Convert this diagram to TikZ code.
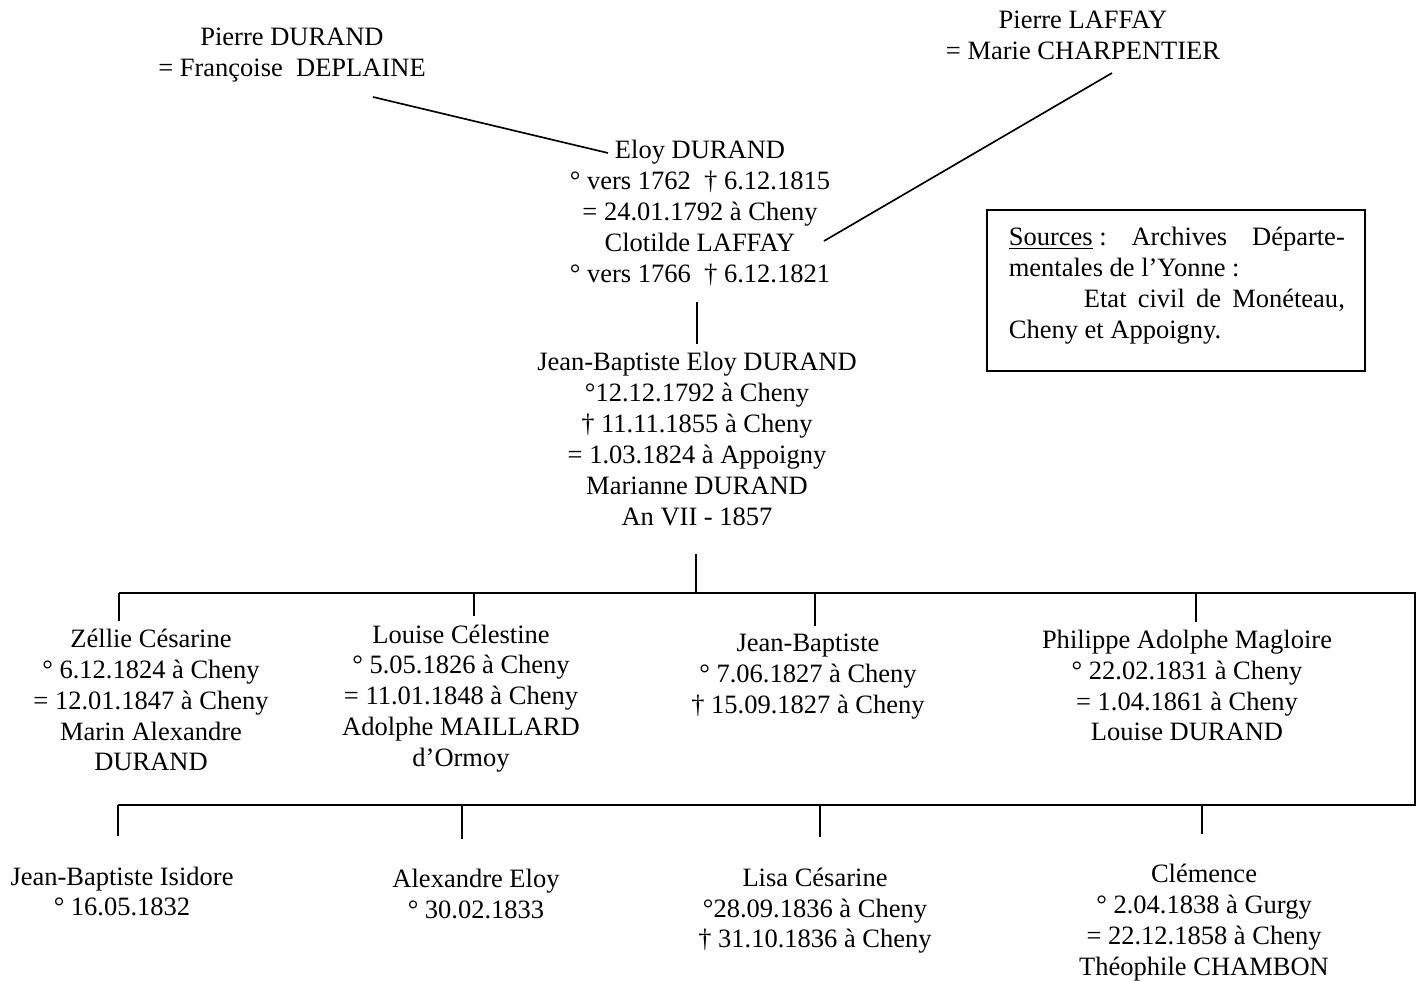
\documentclass[tikz,border=0pt]{standalone}
\usepackage{fontspec}
\setmainfont{Liberation Serif}

\begin{document}
\begin{tikzpicture}[x=1.5914cm, y=-1.5914cm, line width=0.75pt,
  every node/.style={align=center, font=\fontsize{12}{14}\selectfont}]
\useasboundingbox (0,0) rectangle (14.23,9.81);

% Grandparents
\node (pdurand) at (2.92,0.55) {Pierre DURAND\\= Françoise\ \ DEPLAINE};
\node (plaffay) at (10.83,0.35) {Pierre LAFFAY\\= Marie CHARPENTIER};

% Eloy and Clotilde
\node (eloy) at (7.00,2.13) {Eloy DURAND\\° vers 1762\ \ † 6.12.1815\\= 24.01.1792 à Cheny\\Clotilde LAFFAY\\° vers 1766\ \ † 6.12.1821};
\coordinate (pd-link) at (3.73,0.97);
\coordinate (eloy-wlink) at (6.08,1.53);
\coordinate (pl-link) at (11.12,0.73);
\coordinate (eloy-elink) at (8.24,2.41);
\draw (pd-link) -- (eloy-wlink);
\draw (pl-link) -- (eloy-elink);

% Jean-Baptiste Eloy
\node (jb) at (6.97,4.39) {Jean-Baptiste Eloy DURAND\\°12.12.1792 à Cheny\\† 11.11.1855 à Cheny\\= 1.03.1824 à Appoigny\\Marianne DURAND\\An VII - 1857};
\draw[shorten >=3.5pt] (jb.north) -- (jb.north |- eloy.south);

% Sources
\node[draw, minimum width=6.016cm, minimum height=2.562cm, inner sep=0] (srcbox) at (11.76,2.905) {};
\node[anchor=north west, inner sep=0, text width=5.347cm, align=flush left] (srctext) at (10.08,2.26)
  {\underline{Sources} :\hfill Archives\hfill Départe-\\
   mentales de l’Yonne :\\
   \hspace*{34pt}Etat\hfill civil\hfill de\hfill Monéteau,\\
   Cheny et Appoigny.};

% Children, first row
\node (zellie) at (1.51,7.00) {Zéllie Césarine\\° 6.12.1824 à Cheny\\= 12.01.1847 à Cheny\\Marin Alexandre\\DURAND};
\node (louise) at (4.61,6.985) {Louise Célestine\\° 5.05.1826 à Cheny\\= 11.01.1848 à Cheny\\Adolphe MAILLARD\\d’Ormoy};
\node (jbap) at (8.08,6.765) {Jean-Baptiste\\° 7.06.1827 à Cheny\\† 15.09.1827 à Cheny};
\node (philippe) at (11.87,6.855) {Philippe Adolphe Magloire\\° 22.02.1831 à Cheny\\= 1.04.1861 à Cheny\\Louise DURAND};

% Children, second row
\node (isidore) at (1.22,8.915) {Jean-Baptiste Isidore\\° 16.05.1832};
\node (alexandre) at (4.76,8.94) {Alexandre Eloy\\° 30.02.1833};
\node (lisa) at (8.15,9.107) {Lisa Césarine\\°28.09.1836 à Cheny\\† 31.10.1836 à Cheny};
\node (clemence) at (12.04,9.228) {Clémence\\° 2.04.1838 à Gurgy\\= 22.12.1858 à Cheny\\Théophile CHAMBON};

% Sibling bars
\coordinate (fam) at (6.96,5.93);
\coordinate (row1w) at (1.19,5.93);
\coordinate (row1e) at (14.15,5.93);
\coordinate (row2w) at (1.18,8.05);
\coordinate (row2e) at (14.15,8.05);
\draw[shorten >=9pt] (fam) -- (fam |- jb.south);
\draw (row1w) -- (row1e) -- (row2e) -- (row2w);

\coordinate (d-louise) at (4.74,5.93);
\coordinate (d-jbap) at (8.15,5.93);
\coordinate (d-philippe) at (11.96,5.93);
\draw (row1w) -- (row1w |- zellie.north);
\draw (d-louise) -- (d-louise |- louise.north);
\draw (d-jbap) -- (d-jbap |- jbap.north);
\draw (d-philippe) -- (d-philippe |- philippe.north);

\coordinate (d-alexandre) at (4.62,8.05);
\coordinate (d-lisa) at (8.20,8.05);
\coordinate (d-clemence) at (12.02,8.05);
\draw[shorten >=10pt] (row2w) -- (row2w |- isidore.north);
\draw[shorten >=10pt] (d-alexandre) -- (d-alexandre |- alexandre.north);
\draw[shorten >=10pt] (d-lisa) -- (d-lisa |- lisa.north);
\draw[shorten >=10pt] (d-clemence) -- (d-clemence |- clemence.north);
\end{tikzpicture}
\end{document}
